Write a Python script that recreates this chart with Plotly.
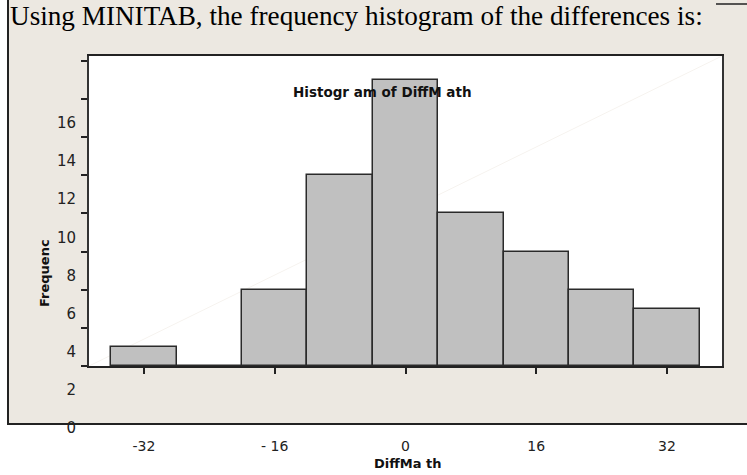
import plotly.graph_objects as go

# Histogram of DiffMath: bin centres (width 8) and frequencies
bin_centers = [-32, -24, -16, -8, 0, 8, 16, 24, 32]
frequencies = [1, 0, 4, 10, 15, 8, 6, 4, 3]
bin_width = 8

x_ticks = [-32, -16, 0, 16, 32]
x_tick_text = ["-32", "- 16", "0", "16", "32"]
y_ticks = [0, 2, 4, 6, 8, 10, 12, 14, 16]
y_tick_text = [str(v) for v in y_ticks]

heading = "Using MINITAB, the frequency histogram of the differences is:"
chart_title = "Histogr am of DiffM ath"
x_title = "DiffMa th"
y_title = "Frequenc"

W, H = 747, 475
L, R, T, B = 89, 722, 56, 366  # plot-area box in pixels


def px(xp):
    return (xp - L) / (R - L)


def py(yp):
    return (B - yp) / (B - T)


BEIGE = "#ECE8E1"
DARK = "#222222"
CHART_FONT = "DejaVu Sans"

fig = go.Figure()
fig.add_trace(go.Bar(
    x=bin_centers,
    y=frequencies,
    width=[bin_width] * len(bin_centers),
    marker=dict(color="#C0C0C0", line=dict(color="#2a2a2a", width=1.5)),
    showlegend=False,
    hoverinfo="x+y",
))

shapes = [
    # beige panel behind the whole chart
    dict(type="rect", xref="paper", yref="paper", layer="below",
         x0=px(8), x1=px(W + 5), y0=py(424), y1=py(-5),
         fillcolor=BEIGE, line=dict(width=0)),
    # white plotting area
    dict(type="rect", xref="paper", yref="paper", layer="below",
         x0=0, x1=1, y0=0, y1=1, fillcolor="white", line=dict(width=0)),
    # faint diagonal inside the plotting area
    dict(type="line", xref="paper", yref="paper", layer="below",
         x0=0, y0=0, x1=1, y1=1, line=dict(color="#F6F3EF", width=1)),
    # panel border: left, bottom, top-right
    dict(type="line", xref="paper", yref="paper",
         x0=px(8), x1=px(8), y0=py(424), y1=py(-2),
         line=dict(color=DARK, width=2)),
    dict(type="line", xref="paper", yref="paper",
         x0=px(7), x1=px(W + 2), y0=py(424), y1=py(424),
         line=dict(color=DARK, width=2)),
    dict(type="line", xref="paper", yref="paper",
         x0=px(716), x1=px(W + 2), y0=py(4), y1=py(4),
         line=dict(color=DARK, width=1.5)),
]

annotations = [
    dict(text=heading, xref="paper", yref="paper", x=px(8), y=py(-1),
         xanchor="left", yanchor="top", showarrow=False,
         font=dict(family="Liberation Serif", size=27.2, color="black")),
    dict(text="<b>" + chart_title + "</b>", xref="paper", yref="paper",
         x=px(382), y=py(92), xanchor="center", yanchor="middle",
         showarrow=False, font=dict(family=CHART_FONT, size=13.5, color="#111")),
    dict(text="<b>" + x_title + "</b>", xref="paper", yref="paper",
         x=px(407), y=py(463), xanchor="center", yanchor="middle",
         showarrow=False, font=dict(family=CHART_FONT, size=13, color="#111")),
    dict(text="<b>" + y_title + "</b>", xref="paper", yref="paper",
         x=px(44), y=py(273), xanchor="center", yanchor="middle",
         textangle=-90, showarrow=False,
         font=dict(family=CHART_FONT, size=13, color="#111")),
]

fig.update_layout(
    width=W, height=H,
    margin=dict(l=L, r=W - R, t=T, b=H - B, pad=0),
    paper_bgcolor="white",
    plot_bgcolor="white",
    bargap=0,
    shapes=shapes,
    annotations=annotations,
    font=dict(family=CHART_FONT, size=14, color="#222"),
)

fig.update_xaxes(
    range=[-38.73, 38.73],
    tickmode="array", tickvals=x_ticks, ticktext=x_tick_text,
    ticks="outside", ticklen=6, tickwidth=1.5, tickcolor=DARK,
    ticklabelstandoff=60,
    showline=True, linecolor=DARK, linewidth=2, mirror=True,
    showgrid=False, zeroline=False, fixedrange=True,
    tickfont=dict(family=CHART_FONT, size=14, color="#222"),
)
fig.update_yaxes(
    range=[0, 16.26],
    tickmode="array", tickvals=y_ticks, ticktext=y_tick_text,
    ticks="outside", ticklen=6, tickwidth=1.5, tickcolor=DARK,
    ticklabelshift=62, ticklabelstandoff=2,
    showline=True, linecolor="#333", linewidth=2, mirror=True,
    showgrid=False, zeroline=False, fixedrange=True,
    tickfont=dict(family=CHART_FONT, size=15, color="#222"),
)

fig.write_html("out.html")
